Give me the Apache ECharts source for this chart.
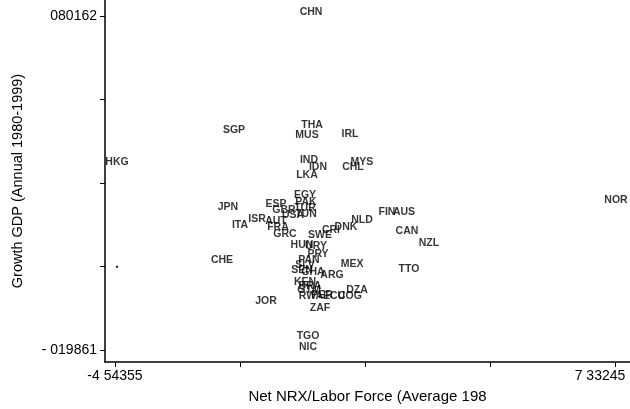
<!DOCTYPE html>
<html><head><meta charset="utf-8">
<script src="https://cdn.jsdelivr.net/npm/echarts@6/dist/echarts.min.js"></script>
<style>html,body{margin:0;padding:0;background:#fff}#c{width:630px;height:409px}</style>
</head><body><div id="c"></div>
<script>
var countries = ['CHN','THA','MUS','IRL','SGP','HKG','IND','IDN','LKA','MYS','CHL','EGY','PAK','TUR','ESP','GBR','USA','TUN','JPN','ISR','AUT','ITA','FRA','GRC','SWE','CRI','DNK','NLD','FIN','AUS','CAN','NZL','NOR','HUN','URY','PRY','PAN','SLV','SEN','GHA','ARG','MEX','TTO','CHE','KEN','BRA','GTM','RWA','PER','ECU','COG','DZA','ZAF','JOR','TGO','NIC'];
var xValues = [0.112,0.136,0.017,1.038,-1.717,-4.496,0.064,0.278,0.017,1.323,1.109,-0.031,-0.007,-0.031,-0.720,-0.530,-0.316,-0.007,-1.860,-1.171,-0.720,-1.575,-0.672,-0.506,0.326,0.587,0.943,1.323,1.917,2.321,2.392,2.914,7.356,-0.102,0.231,0.278,0.064,-0.031,-0.102,0.159,0.611,1.086,2.439,-2.002,-0.031,0.088,0.064,0.112,0.373,0.658,1.038,1.204,0.326,-0.957,0.041,0.041];
var yValues = [0.0813,0.0475,0.0445,0.0448,0.0460,0.0365,0.0371,0.0350,0.0324,0.0365,0.0350,0.0264,0.0244,0.0226,0.0238,0.0220,0.0205,0.0208,0.0229,0.0193,0.0187,0.0175,0.0170,0.0149,0.0146,0.0161,0.0170,0.0190,0.0214,0.0214,0.0158,0.0122,0.0250,0.0116,0.0113,0.0089,0.0072,0.0057,0.0042,0.0036,0.0027,0.0060,0.0045,0.0072,0.0006,-0.0006,-0.0018,-0.0038,-0.0035,-0.0038,-0.0038,-0.0018,-0.0074,-0.0053,-0.0157,-0.0190];
var unlabeledPoint = [-4.496, 0.0051];
var xTicks = [-4.54355,-1.57455,1.39445,4.36345,7.33245];
var xTickLabels = ['-4 54355','','','','7 33245'];
var yTicks = [-0.019861,0.005145,0.030150,0.055156,0.080162];
var yTickLabels = ['- 019861','','','','080162'];

var pts = countries.map(function(n,i){return {name:n,value:[xValues[i],yValues[i]]};});
function lab(ticks, labels){ return function(v){ for(var i=0;i<ticks.length;i++){ if(Math.abs(ticks[i]-v)<1e-6) return labels[i]; } return ''; }; }
var xl = lab(xTicks,xTickLabels), yl = lab(yTicks,yTickLabels);
var chart = echarts.init(document.getElementById('c'),null,{renderer:'canvas'});
chart.setOption({
  animation:false,
  grid:{left:105,right:0,top:0,bottom:41},
  xAxis:{type:'value',min:-4.781,max:7.689,splitLine:{show:false},
    name:'Net NRX/Labor Force (Average 198',nameLocation:'middle',nameGap:27,
    nameTextStyle:{fontFamily:'Liberation Sans',fontSize:15,color:'#000'},
    axisLine:{onZero:false,lineStyle:{color:'#000',width:1.5}},
    axisTick:{customValues:xTicks,length:5,lineStyle:{color:'#000'}},
    axisLabel:{customValues:[xTicks[0],xTicks[4]],fontFamily:'Liberation Sans',fontSize:14,color:'#000',margin:7,
      formatter:function(v){var s=xl(v); return v>0?'{r|'+s+'}':s;},
      rich:{r:{fontFamily:'Liberation Sans',fontSize:14,color:'#000',padding:[0,30,0,0]}}}},
  yAxis:{type:'value',min:-0.023423,max:0.084913,splitLine:{show:false},
    name:'Growth GDP (Annual 1980-1999)',nameLocation:'middle',nameGap:80,
    nameTextStyle:{fontFamily:'Liberation Sans',fontSize:14.5,color:'#000'},
    axisLine:{onZero:false,lineStyle:{color:'#000',width:1.5}},
    axisTick:{customValues:yTicks,length:5,lineStyle:{color:'#000'}},
    axisLabel:{customValues:[yTicks[0],yTicks[4]],fontFamily:'Liberation Sans',fontSize:14,color:'#000',margin:8,formatter:yl}},
  series:[
    {type:'scatter',data:pts,symbolSize:6,itemStyle:{color:'rgba(0,0,0,0)'},
     label:{show:true,position:'inside',formatter:'{b}',fontFamily:'Liberation Sans',fontWeight:'bold',fontSize:10.5,color:'#000'}},
    {type:'scatter',data:[unlabeledPoint],symbolSize:2.5,itemStyle:{color:'#000'}}
  ]
});
</script></body></html>
